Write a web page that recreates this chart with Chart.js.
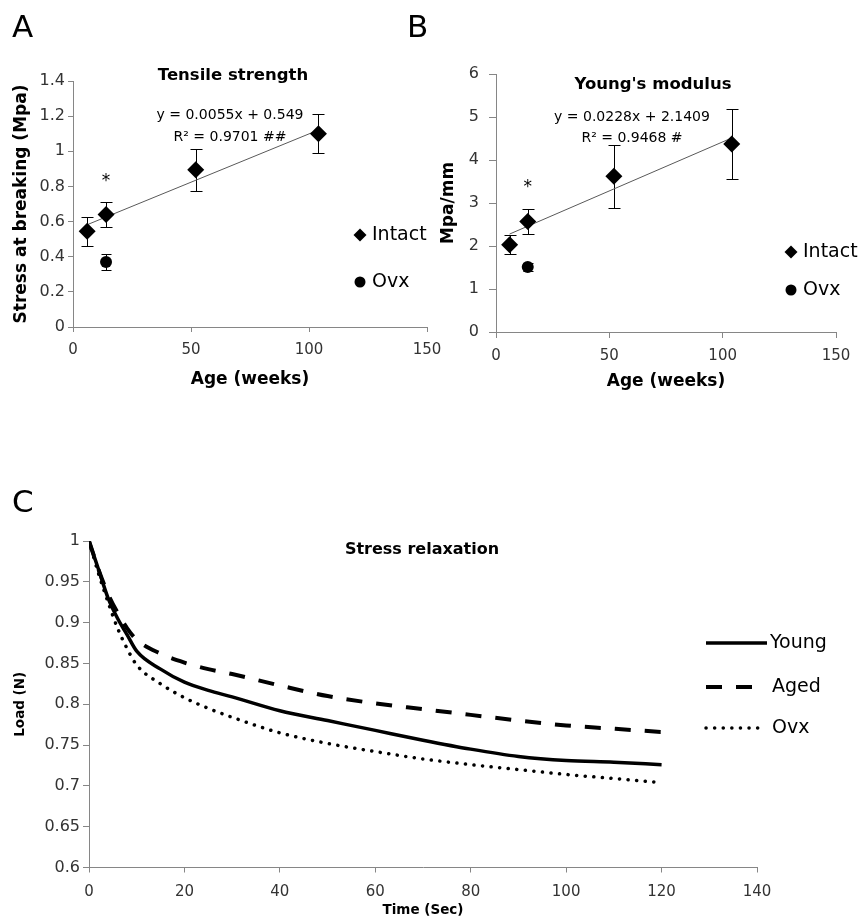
<!DOCTYPE html>
<html>
<head>
<meta charset="utf-8">
<script src="https://cdn.jsdelivr.net/npm/chart.js@4.4.1/dist/chart.umd.min.js"></script>
<style>
  body { margin: 0; background: #fff; }
  #wrap { position: relative; width: 858px; height: 920px; overflow: hidden; font-family: 'DejaVu Sans', sans-serif; }
  canvas { position: absolute; }
  .panel { position: absolute; font-size: 31px; line-height: 31px; color: #000; }
</style>
</head>
<body>
<div id="wrap">
  <canvas id="chartA" width="450" height="400" style="left:0;top:0"></canvas>
  <canvas id="chartB" width="458" height="400" style="left:400px;top:0"></canvas>
  <canvas id="chartC" width="858" height="450" style="left:0;top:470px"></canvas>
  <div class="panel" style="left:12px;top:11px">A</div>
  <div class="panel" style="left:407px;top:11px">B</div>
  <div class="panel" style="left:12px;top:486px">C</div>
</div>
<script>
// panel A / B: age in weeks
const ageWeeks = [6, 14, 52, 104];
const ovxWeeks = [14];

const strengthIntact = [0.545, 0.64, 0.895, 1.1];
const strengthIntactErr = [0.083, 0.07, 0.12, 0.11];
const strengthOvx = [0.37];
const strengthOvxErr = [0.043];
const strengthFit = [0.0055, 0.549]; // slope, intercept

const modulusIntact = [2.03, 2.57, 3.62, 4.37];
const modulusIntactErr = [0.22, 0.3, 0.74, 0.81];
const modulusOvx = [1.51];
const modulusOvxErr = [0.09];
const modulusFit = [0.0228, 2.1409];

// panel C: stress relaxation
const timeSec = [0, 2, 4, 6, 8, 10, 15, 20, 25, 30, 40, 50, 60, 70, 80, 90, 100, 110, 120];
const loadYoung = [1, 0.965, 0.93, 0.905, 0.885, 0.865, 0.843, 0.827, 0.817, 0.809, 0.792, 0.78, 0.768, 0.756, 0.745, 0.736, 0.731, 0.729, 0.726];
const loadAged = [1, 0.965, 0.935, 0.912, 0.893, 0.879, 0.862, 0.851, 0.843, 0.837, 0.823, 0.81, 0.801, 0.794, 0.787, 0.78, 0.774, 0.77, 0.766];
const loadOvx = [1, 0.96, 0.925, 0.893, 0.868, 0.848, 0.825, 0.808, 0.795, 0.784, 0.765, 0.752, 0.742, 0.733, 0.726, 0.72, 0.714, 0.709, 0.704];

const FONT = "'DejaVu Sans', sans-serif";
const AXIS = "#868686";
const TICK = "#333";

Chart.defaults.font.family = FONT;
Chart.defaults.color = TICK;

const fmt = (v) => String(+v.toFixed(2));
const pts = (xs, ys) => xs.map((x, i) => ({ x: x, y: ys[i] }));
const fitLine = (xs, fit) => [xs[0], xs[xs.length - 1]].map((x) => ({ x: x, y: fit[0] * x + fit[1] }));

// error bars drawn from the dataset's errors array, through the scales
const errorBars = {
  id: "errorBars",
  beforeDatasetsDraw(chart) {
    const { ctx, scales: { x, y } } = chart;
    chart.data.datasets.forEach((ds) => {
      if (!ds.errors) return;
      ctx.save();
      ctx.strokeStyle = "#000";
      ctx.lineWidth = 1;
      ds.data.forEach((p, j) => {
        const px = Math.round(x.getPixelForValue(p.x)) + 0.5;
        const top = Math.round(y.getPixelForValue(p.y + ds.errors[j])) + 0.5;
        const bot = Math.round(y.getPixelForValue(p.y - ds.errors[j])) + 0.5;
        ctx.beginPath();
        ctx.moveTo(px, top);
        ctx.lineTo(px, bot);
        ctx.moveTo(px - ds.capHalf, top);
        ctx.lineTo(px + ds.capHalf, top);
        ctx.moveTo(px - ds.capHalf, bot);
        ctx.lineTo(px + ds.capHalf, bot);
        ctx.stroke();
      });
      ctx.restore();
    });
  },
};

// free text and hand placed legend keys
const notes = {
  id: "notes",
  afterDraw(chart, args, opts) {
    const { ctx, scales: { x, y } } = chart;
    ctx.save();
    (opts.texts || []).forEach((t) => {
      ctx.font = (t.bold ? "bold " : "") + t.size + "px " + FONT;
      ctx.fillStyle = "#000";
      ctx.textAlign = t.align || "center";
      ctx.textBaseline = "middle";
      const px = t.data ? x.getPixelForValue(t.x) : t.x;
      const py = t.data ? y.getPixelForValue(t.y) : t.y;
      ctx.fillText(t.text, px, py);
    });
    (opts.keys || []).forEach((k) => {
      const ds = chart.data.datasets[k.ds];
      ctx.fillStyle = "#000";
      ctx.strokeStyle = "#000";
      if (ds.showLine) {
        ctx.save();
        ctx.lineWidth = ds.borderWidth;
        ctx.lineCap = ds.borderCapStyle || "butt";
        ctx.setLineDash(ds.borderDash || []);
        ctx.beginPath();
        ctx.moveTo(k.x, k.y);
        ctx.lineTo(k.x2, k.y);
        ctx.stroke();
        ctx.restore();
      } else if (ds.pointStyle === "rectRot") {
        ctx.beginPath();
        ctx.moveTo(k.x, k.y - k.r);
        ctx.lineTo(k.x + k.r, k.y);
        ctx.lineTo(k.x, k.y + k.r);
        ctx.lineTo(k.x - k.r, k.y);
        ctx.closePath();
        ctx.fill();
      } else {
        ctx.beginPath();
        ctx.arc(k.x, k.y, k.r, 0, Math.PI * 2);
        ctx.fill();
      }
      ctx.font = k.size + "px " + FONT;
      ctx.textAlign = "left";
      ctx.textBaseline = "middle";
      ctx.fillText(ds.label, k.tx, k.y);
    });
    ctx.restore();
  },
};

function axisX(opts) {
  return {
    type: "linear",
    min: opts.min,
    max: opts.max,
    ticks: { stepSize: opts.step, padding: opts.pad, font: { size: 15 }, color: TICK, callback: fmt },
    grid: { drawOnChartArea: false, tickLength: opts.tick, color: AXIS },
    border: { color: AXIS },
    title: {
      display: true,
      text: opts.title,
      color: "#000",
      font: { size: opts.titleSize, weight: "bold" },
      padding: { top: 0, bottom: opts.titlePad },
    },
    afterFit(s) {
      s.height = opts.size;
      s.paddingLeft = 0;
      s.paddingRight = 0;
    },
  };
}

function axisY(opts) {
  return {
    type: "linear",
    min: opts.min,
    max: opts.max,
    ticks: { stepSize: opts.step, padding: opts.pad, font: { size: 16 }, color: TICK, callback: fmt },
    grid: { drawOnChartArea: false, tickLength: opts.tick, color: AXIS },
    border: { color: AXIS },
    title: {
      display: true,
      text: opts.title,
      color: "#000",
      font: { size: opts.titleSize, weight: "bold" },
      padding: { top: opts.titlePad, bottom: 0 },
    },
    afterFit(s) {
      s.width = opts.size;
      s.paddingTop = 0;
      s.paddingBottom = 0;
    },
  };
}

function scatterDatasets(intact, intactErr, ovx, ovxErr, fit) {
  return [
    {
      label: "Intact",
      data: pts(ageWeeks, intact),
      errors: intactErr,
      capHalf: 6,
      pointStyle: "rectRot",
      pointRadius: 8.5,
      backgroundColor: "#000",
      borderColor: "#000",
      borderWidth: 0,
    },
    {
      label: "Ovx",
      data: pts(ovxWeeks, ovx),
      errors: ovxErr,
      capHalf: 5,
      pointStyle: "circle",
      pointRadius: 6,
      backgroundColor: "#000",
      borderColor: "#000",
      borderWidth: 0,
    },
    {
      label: "Trend",
      data: fitLine(ageWeeks, fit),
      showLine: true,
      pointRadius: 0,
      borderColor: "#595959",
      borderWidth: 1,
    },
  ];
}

new Chart(document.getElementById("chartA"), {
  type: "scatter",
  data: { datasets: scatterDatasets(strengthIntact, strengthIntactErr, strengthOvx, strengthOvxErr, strengthFit) },
  options: {
    responsive: false,
    animation: false,
    layout: { padding: { left: 0, top: 81, right: 23, bottom: 0 } },
    scales: {
      x: axisX({ min: 0, max: 150, step: 50, pad: 9, tick: 5, title: "Age (weeks)", titleSize: 17, titlePad: 10, size: 73 }),
      y: axisY({ min: 0, max: 1.4, step: 0.2, pad: 3, tick: 5, title: "Stress at breaking (Mpa)", titleSize: 17, titlePad: 11, size: 73 }),
    },
    plugins: {
      legend: { display: false },
      tooltip: { enabled: false },
      notes: {
        texts: [
          { text: "Tensile strength", x: 233, y: 76, size: 16.5, bold: true },
          { text: "y = 0.0055x + 0.549", x: 230, y: 115, size: 14 },
          { text: "R\u00b2 = 0.9701 ##", x: 230, y: 137, size: 14 },
          { text: "*", x: ovxWeeks[0], y: 0.83, size: 17, data: true },
        ],
        keys: [
          { ds: 0, x: 360, y: 235, r: 6.5, tx: 372, size: 19 },
          { ds: 1, x: 360, y: 282, r: 5.5, tx: 372, size: 19 },
        ],
      },
    },
  },
  plugins: [errorBars, notes],
});

new Chart(document.getElementById("chartB"), {
  type: "scatter",
  data: { datasets: scatterDatasets(modulusIntact, modulusIntactErr, modulusOvx, modulusOvxErr, modulusFit) },
  options: {
    responsive: false,
    animation: false,
    layout: { padding: { left: 0, top: 74, right: 22, bottom: 0 } },
    scales: {
      x: axisX({ min: 0, max: 150, step: 50, pad: 9, tick: 6, title: "Age (weeks)", titleSize: 17, titlePad: 8, size: 68 }),
      y: axisY({ min: 0, max: 6, step: 1, pad: 10, tick: 7, title: "Mpa/mm", titleSize: 17, titlePad: 38, size: 96 }),
    },
    plugins: {
      legend: { display: false },
      tooltip: { enabled: false },
      notes: {
        texts: [
          { text: "Young's modulus", x: 253, y: 85, size: 16.5, bold: true },
          { text: "y = 0.0228x + 2.1409", x: 232, y: 117, size: 14 },
          { text: "R\u00b2 = 0.9468 #", x: 232, y: 138, size: 14 },
          { text: "*", x: ovxWeeks[0], y: 3.36, size: 17, data: true },
        ],
        keys: [
          { ds: 0, x: 391, y: 252, r: 6.5, tx: 403, size: 19 },
          { ds: 1, x: 391, y: 290, r: 5.5, tx: 403, size: 19 },
        ],
      },
    },
  },
  plugins: [errorBars, notes],
});

new Chart(document.getElementById("chartC"), {
  type: "scatter",
  data: {
    datasets: [
      {
        label: "Young",
        data: pts(timeSec, loadYoung),
        showLine: true,
        pointRadius: 0,
        borderColor: "#000",
        borderWidth: 3.5,
        cubicInterpolationMode: "monotone",
      },
      {
        label: "Aged",
        data: pts(timeSec, loadAged),
        showLine: true,
        pointRadius: 0,
        borderColor: "#000",
        borderWidth: 4,
        borderDash: [16, 14],
        cubicInterpolationMode: "monotone",
      },
      {
        label: "Ovx",
        data: pts(timeSec, loadOvx),
        showLine: true,
        pointRadius: 0,
        borderColor: "#000",
        borderWidth: 3.5,
        borderDash: [0.1, 8.5],
        borderCapStyle: "round",
        cubicInterpolationMode: "monotone",
      },
    ],
  },
  options: {
    responsive: false,
    animation: false,
    layout: { padding: { left: 0, top: 71, right: 101, bottom: 0 } },
    scales: {
      x: axisX({ min: 0, max: 140, step: 20, pad: 11, tick: 5, title: "Time (Sec)", titleSize: 13.5, titlePad: 1, size: 52.5 }),
      y: axisY({ min: 0.6, max: 1, step: 0.05, pad: 3, tick: 6, title: "Load (N)", titleSize: 13.5, titlePad: 12, size: 89 }),
    },
    plugins: {
      legend: { display: false },
      tooltip: { enabled: false },
      notes: {
        texts: [{ text: "Stress relaxation", x: 422, y: 80, size: 16, bold: true }],
        keys: [
          { ds: 0, x: 706, x2: 767, y: 173, tx: 770, size: 19 },
          { ds: 1, x: 706, x2: 753, y: 217, tx: 772, size: 19 },
          { ds: 2, x: 706, x2: 762, y: 258, tx: 772, size: 19 },
        ],
      },
    },
  },
  plugins: [notes],
});
</script>
</body>
</html>
